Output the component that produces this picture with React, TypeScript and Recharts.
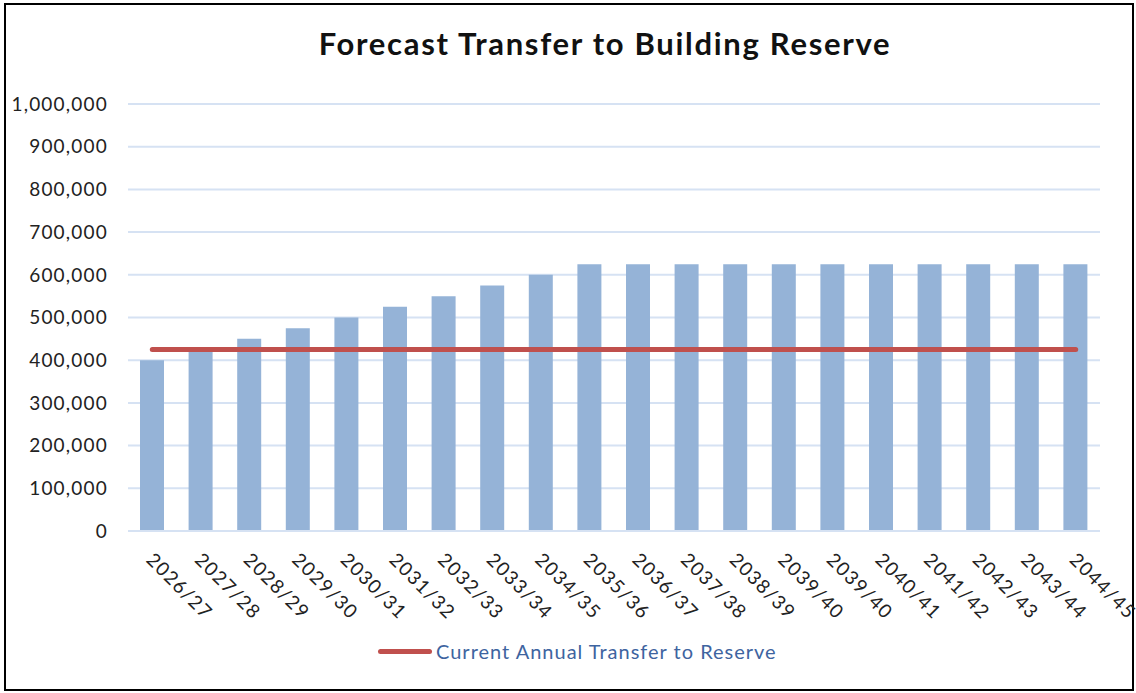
import React from 'react';
import { ComposedChart, Bar, Line, XAxis, YAxis, CartesianGrid, Legend } from 'recharts';

const years = [
  '2026/27', '2027/28', '2028/29', '2029/30', '2030/31', '2031/32', '2032/33', '2033/34', '2034/35', '2035/36',
  '2036/37', '2037/38', '2038/39', '2039/40', '2039/40', '2040/41', '2041/42', '2042/43', '2043/44', '2044/45',
];
const forecast = [
  400000, 425000, 450000, 475000, 500000, 525000, 550000, 575000, 600000, 625000,
  625000, 625000, 625000, 625000, 625000, 625000, 625000, 625000, 625000, 625000,
];
const currentTransfer = [
  425000, 425000, 425000, 425000, 425000, 425000, 425000, 425000, 425000, 425000,
  425000, 425000, 425000, 425000, 425000, 425000, 425000, 425000, 425000, 425000,
];
const yTicks = [0, 100000, 200000, 300000, 400000, 500000, 600000, 700000, 800000, 900000, 1000000];

// index key so the repeated "2039/40" label still gets its own bar
const data = years.map((year, i) => ({ id: i, year, forecast: forecast[i], current: currentTransfer[i] }));

const FONT = 'Lato, "Open Sans", sans-serif';

const XTick = (props: any) => {
  const { x, y, index } = props;
  return (
    <g transform={`translate(${x + 3},${y + 12})`}>
      <text transform="rotate(45)" textAnchor="start" dy="0.75em" fontSize={19} letterSpacing={1.3}
        fontFamily={FONT} fill="#222">
        {years[index]}
      </text>
    </g>
  );
};

const LegendContent = () => (
  <div style={{ display: 'flex', alignItems: 'center', justifyContent: 'flex-start', paddingLeft: 378 }}>
    <div style={{ width: 54, height: 5, borderRadius: 3, background: '#c0504d' }} />
    <span style={{ marginLeft: 4, color: '#3e64a0', fontSize: 20, fontFamily: FONT, letterSpacing: 1 }}>
      Current Annual Transfer to Reserve
    </span>
  </div>
);

export default function App() {
  return (
    <div style={{ position: 'absolute', left: 0, top: 0, width: 1136, height: 693, background: '#fff' }}>
      <div style={{ position: 'absolute', left: 4, top: 3, width: 1126, height: 684, border: '2px solid #000' }} />
      <div style={{ position: 'absolute', left: 0, top: 24, width: 1210, textAlign: 'center',
        fontFamily: FONT, fontWeight: 700, fontSize: 31, letterSpacing: 1.7, color: '#111' }}>
        Forecast Transfer to Building Reserve
      </div>
      <div style={{ position: 'absolute', left: 0, top: 0 }}>
        <ComposedChart width={1136} height={693} data={data}
          margin={{ top: 104, right: 36, bottom: 30, left: 0 }}>
          <CartesianGrid vertical={false} stroke="#d6e2f3" strokeWidth={2} />
          <XAxis dataKey="id" type="category" height={108} interval={0} tick={<XTick />} tickLine={false}
            axisLine={{ stroke: '#d6e2f3', strokeWidth: 2 }} />
          <YAxis width={128} domain={[0, 1000000]} ticks={yTicks} axisLine={false} tickLine={false}
            tickMargin={14} tickFormatter={(v: number) => v.toLocaleString('en-US')}
            tick={{ fill: '#222', fontSize: 19, fontFamily: FONT, letterSpacing: 1.2 }} />
          <Legend verticalAlign="bottom" content={<LegendContent />} />
          <Bar dataKey="forecast" fill="#95b3d7" barSize={24} isAnimationActive={false} />
          <Line dataKey="current" stroke="#c0504d" strokeWidth={5} strokeLinecap="round" dot={false}
            activeDot={false} isAnimationActive={false} />
        </ComposedChart>
      </div>
    </div>
  );
}
